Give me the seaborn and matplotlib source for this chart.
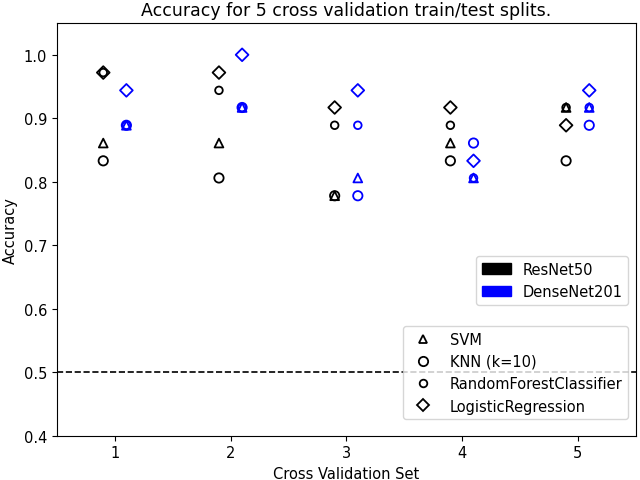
import pandas as pd
import seaborn as sns
import matplotlib
matplotlib.use("Agg")
import matplotlib.pyplot as plt
from matplotlib.lines import Line2D
from matplotlib.patches import Patch

# data: accuracy per cross validation set (36 test images -> steps of 1/36)
cv_sets = [1, 2, 3, 4, 5]
models = ['ResNet50', 'DenseNet201']
classifiers = ['SVM', 'KNN (k=10)', 'RandomForestClassifier', 'LogisticRegression']

resnet_svm = [0.861, 0.861, 0.778, 0.861, 0.917]
resnet_knn = [0.833, 0.806, 0.778, 0.833, 0.833]
resnet_rf = [0.972, 0.944, 0.889, 0.889, 0.917]
resnet_lr = [0.972, 0.972, 0.917, 0.917, 0.889]

densenet_svm = [0.889, 0.917, 0.806, 0.806, 0.917]
densenet_knn = [0.889, 0.917, 0.778, 0.861, 0.889]
densenet_rf = [0.889, 0.917, 0.889, 0.806, 0.917]
densenet_lr = [0.944, 1.0, 0.944, 0.833, 0.944]

values = {
    ('ResNet50', 'SVM'): resnet_svm,
    ('ResNet50', 'KNN (k=10)'): resnet_knn,
    ('ResNet50', 'RandomForestClassifier'): resnet_rf,
    ('ResNet50', 'LogisticRegression'): resnet_lr,
    ('DenseNet201', 'SVM'): densenet_svm,
    ('DenseNet201', 'KNN (k=10)'): densenet_knn,
    ('DenseNet201', 'RandomForestClassifier'): densenet_rf,
    ('DenseNet201', 'LogisticRegression'): densenet_lr,
}

rows = []
for (model, clf), accs in values.items():
    for s, a in zip(cv_sets, accs):
        rows.append({'model': model, 'clf': clf, 'set': s, 'acc': a})
df = pd.DataFrame(rows)
offset = {'ResNet50': -0.1, 'DenseNet201': 0.1}
df['xpos'] = df['set'] + df['model'].map(offset)

colors = {'ResNet50': 'black', 'DenseNet201': 'blue'}
markers = {'SVM': '^', 'KNN (k=10)': 'o', 'RandomForestClassifier': 'o', 'LogisticRegression': 'D'}
sizes = {'SVM': 40, 'KNN (k=10)': 45, 'RandomForestClassifier': 30, 'LogisticRegression': 42}

plt.rcParams['font.size'] = 10.5

fig, ax = plt.subplots(figsize=(6.4, 4.81), dpi=100)

for clf in classifiers:
    sub = df[df['clf'] == clf]
    sns.scatterplot(data=sub, x='xpos', y='acc', hue='model', palette=colors,
                    marker=markers[clf], s=sizes[clf], legend=False, ax=ax)

# hollow markers
for coll in ax.collections:
    fc = coll.get_facecolors()
    coll.set_edgecolors(fc)
    coll.set_facecolors('none')
    coll.set_linewidths(1.3)

ax.axhline(0.5, color='black', linestyle='--', linewidth=1.2)

ax.set_xlim(0.5, 5.5)
ax.set_ylim(0.4, 1.05)
ax.set_xticks(cv_sets)
ax.set_yticks([0.4, 0.5, 0.6, 0.7, 0.8, 0.9, 1.0])
ax.set_xlabel('Cross Validation Set')
ax.set_ylabel('Accuracy')
ax.set_title('Accuracy for 5 cross validation train/test splits.', fontsize=12.5)

model_handles = [Patch(color=colors[m], label=m) for m in models]
leg1 = ax.legend(handles=model_handles, loc='lower right', bbox_to_anchor=(1.0, 0.30))
ax.add_artist(leg1)

clf_handles = [Line2D([], [], linestyle='none', marker=markers[c], markerfacecolor='none',
                      markeredgecolor='black', markeredgewidth=1.3,
                      markersize=(sizes[c] ** 0.5), label=c) for c in classifiers]
ax.legend(handles=clf_handles, loc='lower right', bbox_to_anchor=(1.0, 0.022))

plt.subplots_adjust(left=0.089, right=0.993, top=0.95, bottom=0.092)
plt.savefig('out.png', dpi=100)
